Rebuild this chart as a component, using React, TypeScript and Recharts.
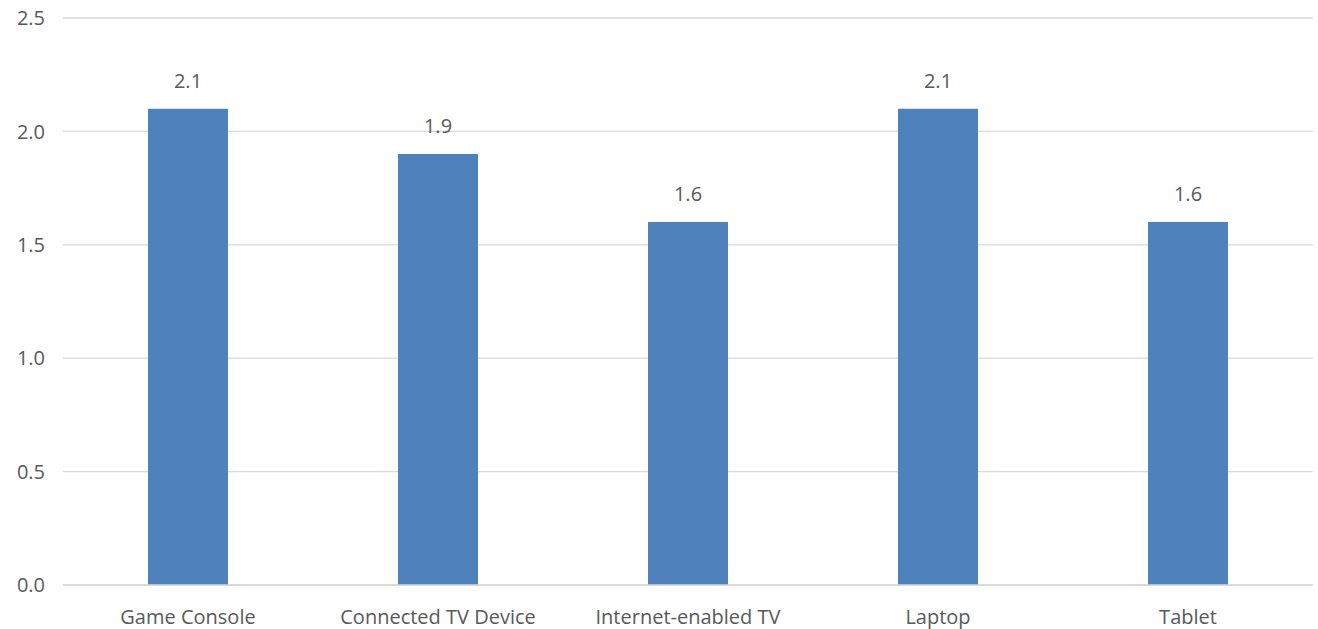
import { BarChart, Bar, XAxis, YAxis, CartesianGrid, LabelList } from 'recharts';

const devices = ['Game Console', 'Connected TV Device', 'Internet-enabled TV', 'Laptop', 'Tablet'];
const hours = [2.1, 1.9, 1.6, 2.1, 1.6];
const yTicks = [0, 0.5, 1.0, 1.5, 2.0, 2.5];

const data = devices.map((name, i) => ({ name, value: hours[i] }));

const textStyle = { fill: '#595959', fontSize: 20, fontFamily: '"Open Sans", sans-serif' };

export default function App() {
  return (
    <div style={{ position: 'absolute', left: 0, top: 0, width: 1318, height: 629, background: '#fff' }}>
      <BarChart
        width={1318}
        height={629}
        data={data}
        margin={{ top: 18, right: 5, bottom: 14, left: 0 }}
        barCategoryGap="34%"
      >
        <CartesianGrid vertical={false} stroke="#d9d9d9" strokeWidth={1.3} />
        <XAxis
          dataKey="name"
          height={30}
          axisLine={{ stroke: '#d9d9d9', strokeWidth: 1.3 }}
          tickLine={false}
          tick={textStyle}
          tickMargin={19}
          interval={0}
        />
        <YAxis
          width={63}
          domain={[0, 2.5]}
          ticks={yTicks}
          tickFormatter={(v: number) => v.toFixed(1)}
          axisLine={false}
          tickLine={false}
          tick={textStyle}
          tickMargin={12}
        />
        <Bar dataKey="value" fill="#4f81bd" isAnimationActive={false}>
          <LabelList
            dataKey="value"
            position="top"
            offset={21}
            formatter={(v: number) => v.toFixed(1)}
            style={textStyle}
          />
        </Bar>
      </BarChart>
    </div>
  );
}
